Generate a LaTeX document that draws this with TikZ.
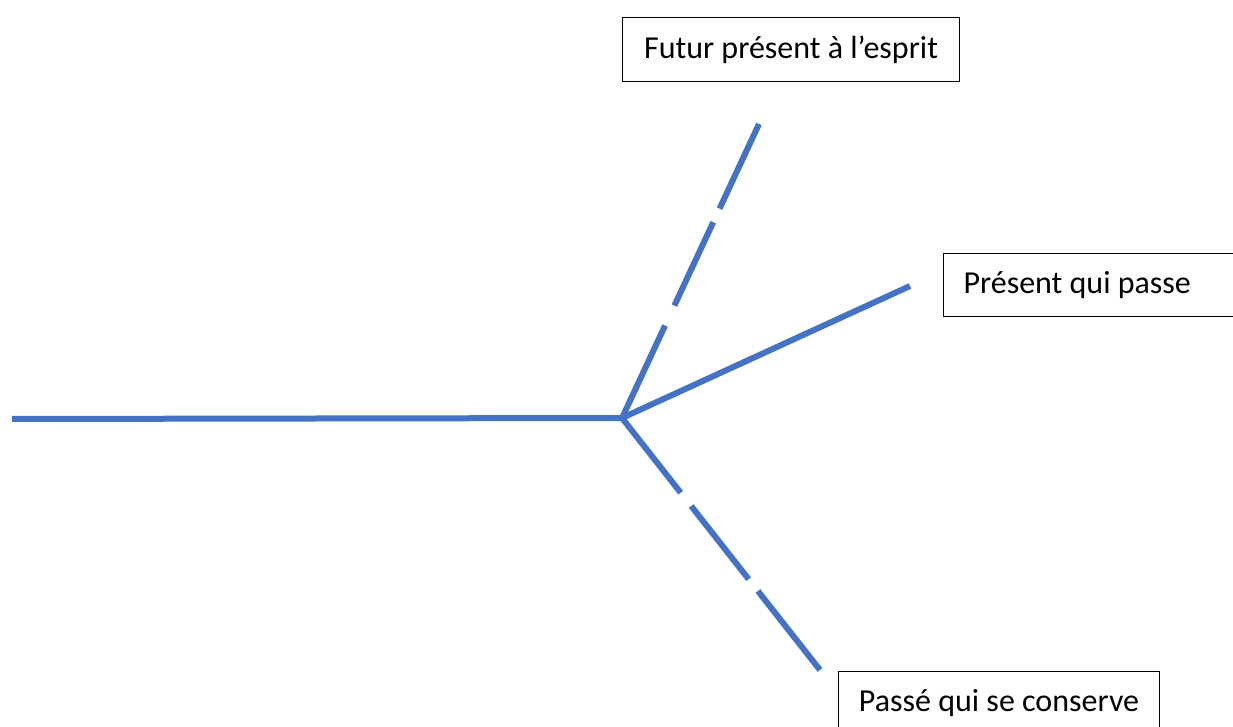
\documentclass[tikz,border=0pt]{standalone}
\usepackage{fontspec}
\setmainfont{Carlito}
\definecolor{lineblue}{HTML}{4472C4}
\tikzset{
  branch/.style={draw=lineblue, line width=4.5pt, line cap=butt},
  labelbox/.style={draw=black, line width=0.8pt, fill=white, font=\fontsize{24pt}{29pt}\selectfont, inner sep=0pt}
}
\begin{document}
\begin{tikzpicture}[x=0.75pt, y=-0.75pt]
\useasboundingbox (0,0) rectangle (1233,727);
\clip (0,0) rectangle (1233,727);
% boxes
\node[labelbox, minimum width=337*0.75pt, minimum height=64*0.75pt, anchor=north west] (futur) at (622,17) {Futur présent à l’esprit};
\node[labelbox, minimum width=310*0.75pt, minimum height=63*0.75pt, anchor=north west, text width=270*0.75pt, align=flush left, inner xsep=20*0.75pt] (present) at (943,253) {Présent qui passe};
\node[labelbox, minimum width=321*0.75pt, minimum height=64*0.75pt, anchor=north west] (passe) at (838,671) {Passé qui se conserve};
% coordinates
\coordinate (start) at (12,419);
\coordinate (c) at (622,418);
\coordinate (fe) at (759,124);
\coordinate (pe) at (910,286);
\coordinate (pa) at (820,670);
% lines
\draw[branch] (start) -- (c);
\draw[branch] (c) -- (pe);
\draw[branch, dash pattern=on 76.5pt off 16.5pt on 69pt off 11.25pt on 150pt] (c) -- (fe);
\draw[branch, dash pattern=on 71.25pt off 12.75pt on 69.75pt off 11.25pt on 150pt] (c) -- (pa);
\end{tikzpicture}
\end{document}
